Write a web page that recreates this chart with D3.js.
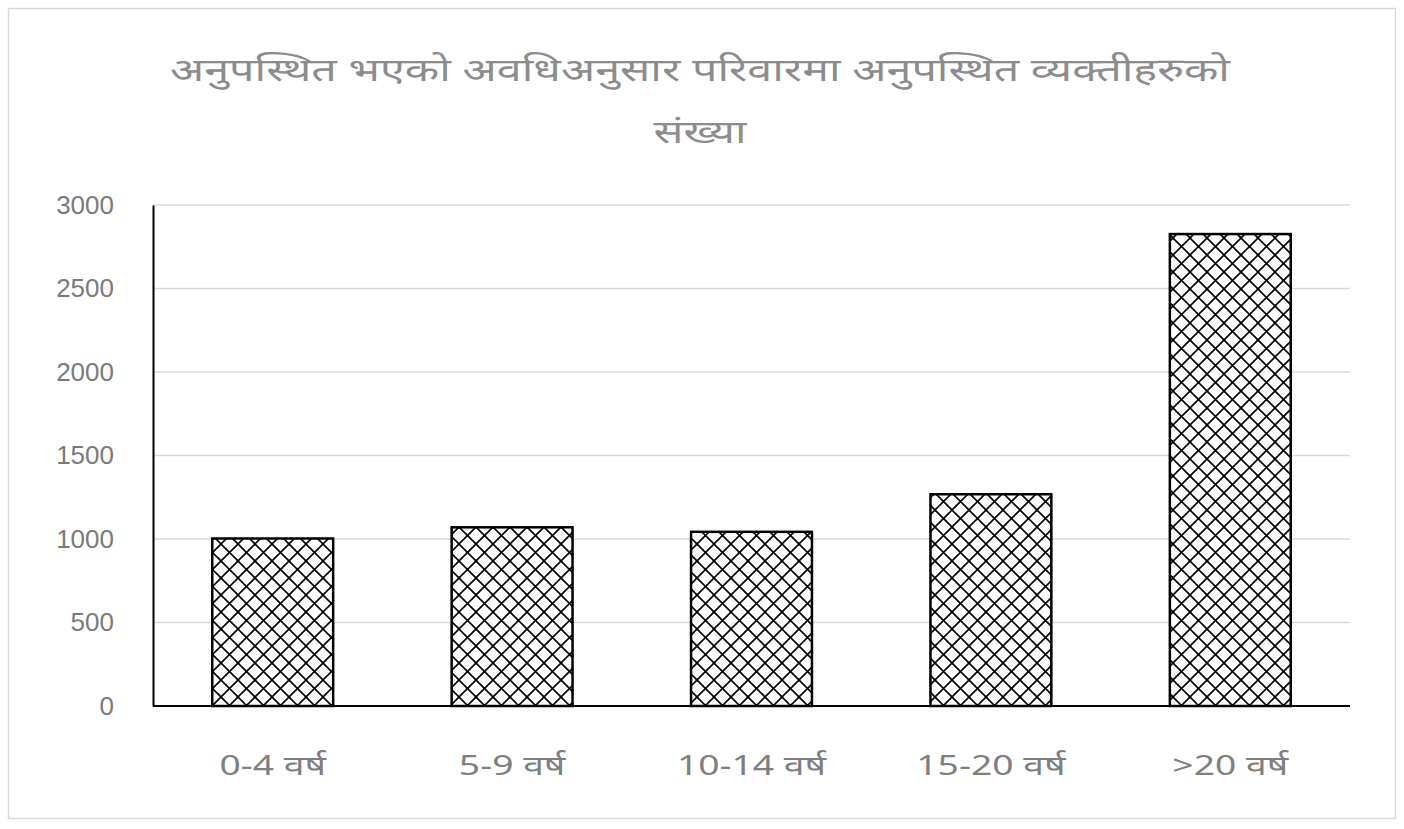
<!DOCTYPE html>
<html><head><meta charset="utf-8">
<script src="https://cdn.jsdelivr.net/npm/d3@7/dist/d3.min.js"></script>
<style>body{margin:0;background:#fff;} svg{display:block;}</style>
</head><body>
<svg id="c" width="1404" height="829"></svg>
<script>
const categories = ["0-4 वर्ष", "5-9 वर्ष", "10-14 वर्ष", "15-20 वर्ष", ">20 वर्ष"];
const values = [1003, 1070, 1043, 1268, 2826];
const yTicks = [0, 500, 1000, 1500, 2000, 2500, 3000];
const titleLines = ["अनुपस्थित भएको अवधिअनुसार परिवारमा अनुपस्थित व्यक्तीहरुको", "संख्या"];

const svg = d3.select("#c");
const m = {left: 153, right: 1350, top: 205, bottom: 706};

svg.append("rect").attr("x", 8.5).attr("y", 8.5).attr("width", 1387).attr("height", 810)
  .attr("fill", "#fff").attr("stroke", "#d9d9d9").attr("stroke-width", 1.5);

const defs = svg.append("defs");
const p = defs.append("pattern").attr("id", "hatch").attr("patternUnits", "userSpaceOnUse")
  .attr("width", 17).attr("height", 17);
p.append("rect").attr("width", 17).attr("height", 17).attr("fill", "#fff");
p.append("path").attr("d", "M0,0L17,17M17,0L0,17").attr("stroke", "#000").attr("stroke-width", 1.6);
p.append("path").attr("d", "M-1,-1L1,1M16,16L18,18M16,-1L18,1M-1,16L1,18").attr("stroke", "#000").attr("stroke-width", 1.6);

const x = d3.scaleBand().domain(categories).range([m.left, m.right]).paddingInner(0.495).paddingOuter(0.2475);
const y = d3.scaleLinear().domain([0, 3000]).range([m.bottom, m.top]);

// gridlines
svg.append("g").selectAll("line").data(yTicks.filter(d => d > 0)).join("line")
  .attr("x1", m.left).attr("x2", m.right).attr("y1", d => y(d)).attr("y2", d => y(d))
  .attr("stroke", "#d9d9d9").attr("stroke-width", 1.5);

// bars
svg.append("g").selectAll("rect").data(values).join("rect")
  .attr("x", (d, i) => x(categories[i]))
  .attr("y", d => y(d))
  .attr("width", x.bandwidth())
  .attr("height", d => y(0) - y(d))
  .attr("fill", "url(#hatch)").attr("stroke", "#000").attr("stroke-width", 2.5);

// y axis
const ya = d3.axisLeft(y).tickValues(yTicks).tickSize(0).tickPadding(39).tickFormat(d3.format("d"));
const gy = svg.append("g").attr("transform", `translate(${m.left},0)`).call(ya);
gy.select(".domain").attr("stroke", "#000").attr("stroke-width", 2);
gy.selectAll("text").attr("fill", "#7a7a7a").style("font-family", "'Liberation Sans', Arial, sans-serif").style("font-size", "26px");

// x axis
const xa = d3.axisBottom(x).tickSize(0).tickPadding(50);
const gx = svg.append("g").attr("transform", `translate(0,${m.bottom})`).call(xa);
gx.select(".domain").attr("d", `M${m.left},0H${m.right}`).attr("stroke", "#000").attr("stroke-width", 2);
gx.selectAll("text").attr("fill", "#7f7f7f").style("font-family", "'Noto Sans', 'Liberation Sans', sans-serif").style("font-size", "27px")
  .each(function() {
    const w = this.getComputedTextLength();
    d3.select(this).attr("textLength", w * 1.38).attr("lengthAdjust", "spacingAndGlyphs");
  });

// title
const titleWidths = [1060, 93];
svg.append("g").selectAll("text").data(titleLines).join("text")
  .attr("x", 700).attr("y", (d, i) => 81 + i * 62)
  .attr("text-anchor", "middle").attr("fill", "#8c8c8c")
  .style("font-family", "'Noto Sans', sans-serif").style("font-size", "32px")
  .text(d => d)
  .attr("textLength", (d, i) => titleWidths[i]).attr("lengthAdjust", "spacingAndGlyphs");
</script>
</body></html>
